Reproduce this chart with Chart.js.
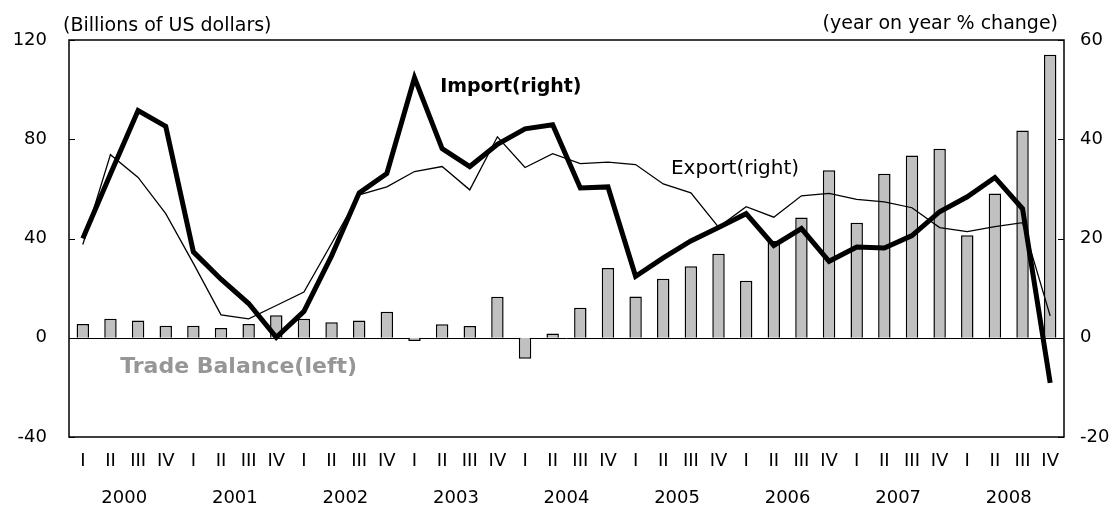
<!DOCTYPE html>
<html>
<head>
<meta charset="utf-8">
<script src="https://cdn.jsdelivr.net/npm/chart.js@4/dist/chart.umd.min.js"></script>
<style>
  html, body { margin: 0; padding: 0; background: #fff; }
  #wrap { width: 1115px; height: 506px; position: relative; }
</style>
</head>
<body>
<div id="wrap"><canvas id="c"></canvas></div>
<script>
// Quarters 2000 I .. 2008 IV
const YEARS = ['2000', '2001', '2002', '2003', '2004', '2005', '2006', '2007', '2008'];
const QUARTERS = YEARS.flatMap(() => ['I', 'II', 'III', 'IV']);

// Trade balance, billions of US dollars (left axis)
const BALANCE = [
  5.5, 7.7, 7.0, 4.8,
  4.8, 3.9, 5.5, 9.1,
  7.7, 6.2, 7.0, 10.5,
  -1.3, 5.4, 4.7, 16.5,
  -8.5, 1.7, 12.1, 28.1,
  16.6, 23.8, 28.8, 33.9,
  23.0, 39.0, 48.5, 67.5,
  46.3, 66.1, 73.5, 76.2,
  41.3, 58.1, 83.5, 114.1,
];

// Import, year on year % change (right axis)
const IMPORT = [
  20.0, 33.0, 45.8, 42.6,
  17.3, 11.8, 6.9, 0.1,
  5.3, 16.5, 29.2, 33.1,
  52.4, 38.1, 34.5, 39.0,
  42.1, 42.9, 30.2, 30.4,
  12.4, 16.1, 19.5, 22.2,
  25.0, 18.6, 22.0, 15.4,
  18.3, 18.1, 20.6, 25.4,
  28.4, 32.3, 26.0, -9.1,
];

// Export, year on year % change (right axis)
const EXPORT = [
  18.8, 36.9, 32.3, 25.0,
  15.0, 4.6, 3.8, 6.5,
  9.2, 19.0, 28.8, 30.4,
  33.5, 34.5, 29.8, 40.5,
  34.3, 37.1, 35.1, 35.4,
  34.9, 31.0, 29.2, 22.3,
  26.4, 24.3, 28.6, 29.1,
  27.9, 27.4, 26.2, 22.2,
  21.4, 22.4, 23.2, 4.4,
];

const LEFT_TICKS = [-40, 0, 40, 80, 120];
const RIGHT_TICKS = [-20, 0, 20, 40, 60];

const FONT = 'DejaVu Sans';

// frame, zero line, inward tick marks
const framePlugin = {
  id: 'frame',
  beforeDatasetsDraw(chart) {
    const { ctx, chartArea: a, scales } = chart;
    ctx.save();
    ctx.strokeStyle = '#000';
    ctx.lineWidth = 1;
    const y0 = Math.round(scales.y.getPixelForValue(0)) + 0.5;
    ctx.beginPath();
    ctx.moveTo(a.left, y0);
    ctx.lineTo(a.right, y0);
    ctx.stroke();
    ctx.restore();
  },
  afterDatasetsDraw(chart) {
    const { ctx, chartArea: a, scales } = chart;
    ctx.save();
    ctx.strokeStyle = '#000';
    ctx.lineWidth = 1.5;
    ctx.strokeRect(a.left, a.top, a.right - a.left, a.bottom - a.top);
    ctx.lineWidth = 1;
    LEFT_TICKS.forEach(v => {
      const y = Math.round(scales.y.getPixelForValue(v)) + 0.5;
      ctx.beginPath(); ctx.moveTo(a.left, y); ctx.lineTo(a.left + 6, y); ctx.stroke();
    });
    RIGHT_TICKS.forEach(v => {
      const y = Math.round(scales.y2.getPixelForValue(v)) + 0.5;
      ctx.beginPath(); ctx.moveTo(a.right - 6, y); ctx.lineTo(a.right, y); ctx.stroke();
    });
    ctx.restore();
  },
};

// axis units and series labels
const textPlugin = {
  id: 'texts',
  afterDraw(chart) {
    const { ctx, chartArea: a, scales } = chart;
    const x = scales.x, yl = scales.y, yr = scales.y2;
    ctx.save();
    ctx.textBaseline = 'middle';
    ctx.fillStyle = '#000';

    ctx.font = `19px "${FONT}"`;
    ctx.textAlign = 'left';
    ctx.fillText('(Billions of US dollars)', a.left - 6, 26);
    ctx.textAlign = 'right';
    ctx.fillText('(year on year % change)', a.right - 6, 24);

    ctx.textAlign = 'left';
    ctx.font = `bold 19px "${FONT}"`;
    ctx.fillText('Import(right)', x.getPixelForValue(13) - 2, yr.getPixelForValue(50.5));

    ctx.font = `20px "${FONT}"`;
    ctx.fillText('Export(right)', x.getPixelForValue(21.28), yr.getPixelForValue(34));

    ctx.font = `bold 22px "${FONT}"`;
    ctx.fillStyle = '#969696';
    ctx.fillText('Trade Balance(left)', x.getPixelForValue(1.35), yl.getPixelForValue(-12));
    ctx.restore();
  },
};

Chart.defaults.font.family = FONT;
Chart.defaults.font.size = 18;
Chart.defaults.color = '#000';

new Chart(document.getElementById('c'), {
  data: {
    labels: QUARTERS,
    datasets: [
      {
        type: 'line', label: 'Import(right)', data: IMPORT, yAxisID: 'y2',
        borderColor: '#000', borderWidth: 5, pointRadius: 0, tension: 0,
        borderJoinStyle: 'miter', order: 0,
      },
      {
        type: 'line', label: 'Export(right)', data: EXPORT, yAxisID: 'y2',
        borderColor: '#000', borderWidth: 1.3, pointRadius: 0, tension: 0, order: 1,
      },
      {
        type: 'bar', label: 'Trade Balance(left)', data: BALANCE, yAxisID: 'y',
        backgroundColor: '#c0c0c0', borderColor: '#000', borderWidth: 1.5,
        barPercentage: 0.45, categoryPercentage: 1, order: 2,
      },
    ],
  },
  options: {
    responsive: true,
    maintainAspectRatio: false,
    animation: false,
    layout: { padding: { top: 40, left: 0, right: 0, bottom: 0 } },
    plugins: { legend: { display: false }, tooltip: { enabled: false } },
    scales: {
      x: {
        type: 'category', position: 'bottom', offset: true,
        grid: { display: false, drawTicks: false }, border: { display: false },
        ticks: { autoSkip: false, maxRotation: 0, padding: 14 },
        afterFit: s => { s.height = 34; },
      },
      x2: {
        type: 'category', position: 'bottom', offset: true, labels: YEARS,
        grid: { display: false, drawTicks: false }, border: { display: false },
        ticks: { autoSkip: false, maxRotation: 0, padding: 17 },
        afterFit: s => { s.height = 35; },
      },
      y: {
        position: 'left', min: -40, max: 120,
        afterBuildTicks: s => { s.ticks = LEFT_TICKS.map(v => ({ value: v })); },
        grid: { display: false, drawTicks: false }, border: { display: false },
        ticks: { padding: 22 },
        afterFit: s => { s.width = 69; },
      },
      y2: {
        position: 'right', min: -20, max: 60,
        afterBuildTicks: s => { s.ticks = RIGHT_TICKS.map(v => ({ value: v })); },
        grid: { display: false, drawTicks: false }, border: { display: false },
        ticks: { padding: 16 },
        afterFit: s => { s.width = 51; },
      },
    },
  },
  plugins: [framePlugin, textPlugin],
});
</script>
</body>
</html>
